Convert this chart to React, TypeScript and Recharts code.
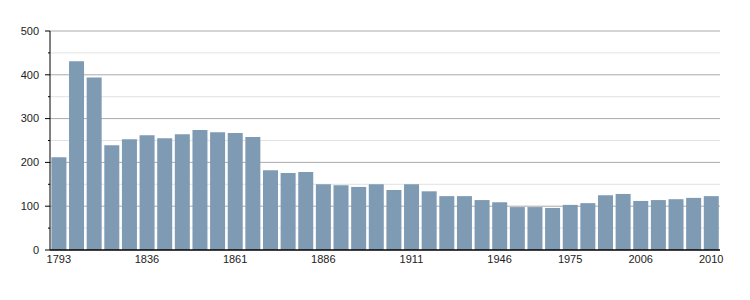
import React from 'react';
import { BarChart, Bar, XAxis, YAxis, CartesianGrid } from 'recharts';

const years = [
  '1793', '1800', '1806', '1821', '1831', '1836', '1841', '1846', '1851', '1856',
  '1861', '1866', '1872', '1876', '1881', '1886', '1891', '1896', '1901', '1906',
  '1911', '1921', '1926', '1931', '1936', '1946', '1954', '1962', '1968', '1975',
  '1982', '1990', '1999', '2006', '2007', '2008', '2009', '2010',
];

const population = [
  212, 431, 394, 239, 253, 262, 255, 264, 274, 269,
  267, 258, 182, 176, 178, 150, 148, 144, 150, 137,
  150, 134, 123, 123, 114, 109, 98, 98, 96, 103,
  107, 125, 128, 112, 114, 116, 119, 123,
];

const shownYears = ['1793', '1836', '1861', '1886', '1911', '1946', '1975', '2006', '2010'];
const yTicks = [0, 50, 100, 150, 200, 250, 300, 350, 400, 450, 500];
const majorLines = [100, 200, 300, 400, 500];
const minorLines = [50, 150, 250, 350, 450];

const data = years.map((year, i) => ({ year, population: population[i] }));

const font = '"Liberation Sans", Arial, Helvetica, sans-serif';

const YTick = (props: any) => {
  const { x, y, payload } = props;
  const major = payload.value % 100 === 0;
  return (
    <g>
      <line x1={x - (major ? 5 : 2)} x2={x} y1={y} y2={y} stroke="#000" />
      {major && (
        <text x={x - 11} y={y} dy="0.35em" textAnchor="end" fontSize={11} fontFamily={font} fill="#222">
          {payload.value}
        </text>
      )}
    </g>
  );
};

const XTick = (props: any) => {
  const { x, y, payload } = props;
  if (!shownYears.includes(payload.value)) return null;
  return (
    <text x={x} y={y + 5} dy="0.71em" textAnchor="middle" fontSize={11} fontFamily={font} fill="#222">
      {payload.value}
    </text>
  );
};

export default function App() {
  return (
    <div style={{ position: 'absolute', left: 0, top: 0, background: '#fff' }}>
      <BarChart
        width={750}
        height={300}
        data={data}
        margin={{ top: 31, right: 30, left: 0, bottom: 20 }}
        barCategoryGap="8%"
      >
        <CartesianGrid horizontal vertical={false} horizontalValues={minorLines} stroke="#e2e2e2" syncWithTicks={false} />
        <CartesianGrid horizontal vertical={false} horizontalValues={majorLines} stroke="#aaaaaa" syncWithTicks={false} />
        <XAxis
          dataKey="year"
          interval={0}
          tickLine={false}
          tickSize={0}
          tickMargin={0}
          height={30}
          axisLine={{ stroke: '#000', strokeWidth: 1.5 }}
          tick={<XTick />}
        />
        <YAxis
          width={50}
          domain={[0, 500]}
          ticks={yTicks}
          interval={0}
          tickLine={false}
          tickSize={0}
          tickMargin={0}
          axisLine={{ stroke: '#000' }}
          tick={<YTick />}
        />
        <Bar dataKey="population" fill="#7f9ab3" isAnimationActive={false} />
      </BarChart>
    </div>
  );
}
